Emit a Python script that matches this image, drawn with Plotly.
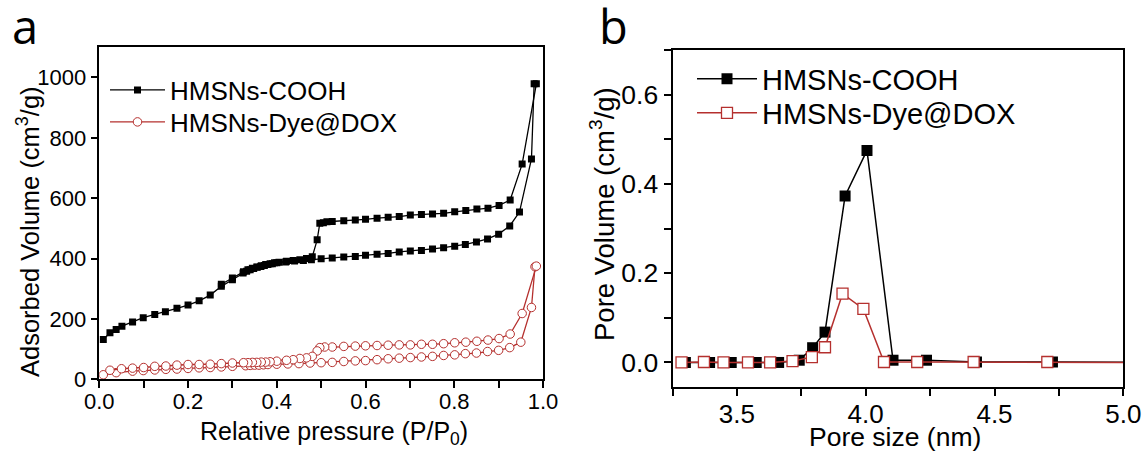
import plotly.graph_objects as go

# ---------------- Panel a: N2 isotherms ----------------
cooh_ads_p = [0.009, 0.024, 0.038, 0.051, 0.075, 0.099, 0.125, 0.149, 0.175, 0.200, 0.225, 0.250, 0.275,
              0.300, 0.324, 0.332, 0.340, 0.348, 0.356, 0.364, 0.372, 0.380, 0.390, 0.400, 0.420, 0.440,
              0.460, 0.478, 0.500, 0.525, 0.551, 0.577, 0.600, 0.626, 0.651, 0.676, 0.701, 0.726, 0.751,
              0.776, 0.801, 0.825, 0.850, 0.875, 0.900, 0.925, 0.947, 0.974, 0.980]
cooh_ads_v = [132, 154, 165, 176, 190, 204, 215, 224, 235, 246, 260, 279, 308,
              330, 352, 358, 363, 367, 371, 374, 377, 380, 383, 386, 389, 392,
              394, 396, 399, 402, 405, 407, 411, 414, 417, 422, 425, 427, 432,
              436, 441, 447, 455, 465, 481, 508, 554, 730, 979]
cooh_des_p = [0.985, 0.953, 0.926, 0.901, 0.876, 0.851, 0.826, 0.801, 0.776, 0.751, 0.726, 0.701, 0.676,
              0.651, 0.626, 0.600, 0.577, 0.551, 0.525, 0.513, 0.505, 0.497, 0.491, 0.480, 0.467, 0.452,
              0.437, 0.422, 0.405, 0.395, 0.385, 0.375, 0.365, 0.355, 0.345, 0.335, 0.325, 0.300, 0.275]
cooh_des_v = [979, 713, 594, 576, 567, 564, 559, 555, 550, 548, 546, 544, 539,
              537, 534, 530, 528, 525, 523, 522, 519, 517, 462, 406, 400, 396,
              394, 391, 388, 386, 383, 380, 376, 372, 368, 363, 356, 336, 315]

dox_ads_p = [0.009, 0.038, 0.075, 0.099, 0.125, 0.150, 0.175, 0.200, 0.225, 0.250, 0.275, 0.300, 0.330,
             0.340, 0.350, 0.360, 0.370, 0.380, 0.400, 0.425, 0.450, 0.475, 0.500, 0.525, 0.551, 0.577,
             0.600, 0.626, 0.651, 0.676, 0.701, 0.726, 0.751, 0.776, 0.801, 0.825, 0.850, 0.875, 0.900,
             0.925, 0.950, 0.974, 0.982]
dox_ads_v = [15, 22, 27, 29, 31, 33, 34, 36, 38, 39, 41, 43, 45,
             46, 47, 47, 48, 49, 50, 51, 52, 54, 55, 56, 59, 61,
             62, 65, 68, 70, 72, 74, 76, 79, 81, 85, 87, 92, 96,
             105, 123, 238, 373]
dox_des_p = [0.985, 0.953, 0.926, 0.901, 0.876, 0.851, 0.826, 0.801, 0.776, 0.751, 0.726, 0.701, 0.676,
             0.651, 0.626, 0.600, 0.577, 0.551, 0.525, 0.508, 0.497, 0.491, 0.480, 0.467, 0.452, 0.437,
             0.422, 0.400, 0.385, 0.375, 0.365, 0.355, 0.345, 0.335, 0.325, 0.300, 0.275, 0.250, 0.225,
             0.200, 0.175, 0.150, 0.125, 0.100, 0.075, 0.050, 0.024]
dox_des_v = [375, 218, 150, 135, 130, 126, 123, 121, 118, 116, 116, 114, 114,
             113, 112, 111, 110, 109, 107, 107, 105, 94, 76, 71, 69, 65,
             63, 60, 58, 57, 57, 56, 56, 55, 55, 54, 52, 50, 49,
             49, 47, 44, 43, 39, 37, 35, 30]

# ---------------- Panel b: pore size distribution ----------------
cooh_pore_x = [3.30, 3.394, 3.478, 3.575, 3.662, 3.742, 3.794, 3.842, 3.920, 4.005, 4.106, 4.236, 4.430, 4.725, 5.10]
cooh_pore_y = [0.0, 0.0, 0.0, 0.0, 0.0, 0.005, 0.033, 0.068, 0.373, 0.475, 0.005, 0.005, 0.001, 0.001, 0.0]
dox_pore_x = [3.285, 3.372, 3.448, 3.543, 3.629, 3.716, 3.791, 3.842, 3.910, 3.991, 4.071, 4.200, 4.419, 4.705, 5.10]
dox_pore_y = [0.0, 0.001, 0.0, 0.0, 0.0, 0.003, 0.012, 0.034, 0.154, 0.120, 0.001, 0.001, 0.001, 0.001, 0.0]

names = ["HMSNs-COOH", "HMSNs-Dye@DOX"]
titles = ["Relative pressure (P/P<sub>0</sub>)", "Adsorbed Volume (cm<sup>3</sup>/g)",
          "Pore size (nm)", "Pore Volume (cm<sup>3</sup>/g)"]
BLACK = "#000000"
RED = "#b5302e"
FONT = "Liberation Sans, Arial, sans-serif"
LETTER_FONT = "Open Sans, Liberation Sans, sans-serif"

fig = go.Figure()

# panel a traces
fig.add_trace(go.Scatter(x=cooh_ads_p, y=cooh_ads_v, mode="lines+markers", name=names[0],
                         line=dict(color=BLACK, width=1.3),
                         marker=dict(symbol="square", size=7, color=BLACK),
                         xaxis="x", yaxis="y", legend="legend"))
fig.add_trace(go.Scatter(x=cooh_des_p, y=cooh_des_v, mode="lines+markers", name=names[0],
                         line=dict(color=BLACK, width=1.3),
                         marker=dict(symbol="square", size=7, color=BLACK),
                         xaxis="x", yaxis="y", showlegend=False))
fig.add_trace(go.Scatter(x=dox_ads_p, y=dox_ads_v, mode="lines+markers", name=names[1],
                         line=dict(color=RED, width=1.3),
                         marker=dict(symbol="circle", size=8.5, color="white", line=dict(color=RED, width=1)),
                         xaxis="x", yaxis="y", legend="legend2"))
fig.add_trace(go.Scatter(x=dox_des_p, y=dox_des_v, mode="lines+markers", name=names[1],
                         line=dict(color=RED, width=1.3),
                         marker=dict(symbol="circle", size=8.5, color="white", line=dict(color=RED, width=1)),
                         xaxis="x", yaxis="y", showlegend=False))

# panel b traces
fig.add_trace(go.Scatter(x=cooh_pore_x, y=cooh_pore_y, mode="lines+markers", name=names[0],
                         line=dict(color=BLACK, width=1.5),
                         marker=dict(symbol="square", size=11, color=BLACK),
                         xaxis="x2", yaxis="y2", legend="legend3"))
fig.add_trace(go.Scatter(x=dox_pore_x, y=dox_pore_y, mode="lines+markers", name=names[1],
                         line=dict(color=RED, width=1.5),
                         marker=dict(symbol="square", size=11, color="white", line=dict(color=RED, width=1.3)),
                         xaxis="x2", yaxis="y2", legend="legend4"))

W, H = 1146, 452


def axis(tsize, **kw):
    base = dict(showline=True, linecolor="black", mirror=True, ticks="outside", ticklen=7,
                tickwidth=1.5, tickcolor="black", showgrid=False, zeroline=False,
                tickfont=dict(family=FONT, size=tsize, color="black"), automargin=False)
    base.update(kw)
    return base


def px(x, y):
    return x / W, 1 - y / H


def leg(x, y, size, iw):
    lx, ly = px(x, y)
    return dict(x=lx, y=ly, xanchor="left", yanchor="middle", bgcolor="rgba(0,0,0,0)",
                font=dict(size=size, family=FONT, color="black"), itemwidth=iw)


fig.update_layout(
    width=W, height=H,
    margin=dict(l=0, r=0, t=0, b=0),
    paper_bgcolor="white", plot_bgcolor="white",
    font=dict(family=FONT, size=22, color="black"),
    xaxis=axis(22, domain=[99.3 / W, 543 / W], range=[0, 1.0], dtick=0.2, tickformat=".1f",
               minor=dict(dtick=0.1, ticks="outside", ticklen=7, tickwidth=1.5, tickcolor="black"),
               linewidth=1.5, anchor="y", ticklabelstandoff=-5),
    yaxis=axis(22, domain=[(H - 379.3) / H, (H - 47.3) / H], range=[0, 1100],
               tickvals=[0, 200, 400, 600, 800, 1000],
               linewidth=1.5, anchor="x"),
    xaxis2=axis(26, domain=[672.5 / W, 1123.3 / W], range=[3.25, 5.0], tickvals=[3.5, 4.0, 4.5, 5.0],
                ticktext=["3.5", "4.0", "4.5", "5.0"],
                minor=dict(dtick=0.25, tick0=3.25, ticks="outside", ticklen=7, tickwidth=1.5, tickcolor="black"),
                linewidth=2, anchor="y2", ticklabelstandoff=-4),
    yaxis2=axis(26.5, domain=[(H - 387) / H, (H - 50) / H], range=[-0.055, 0.7], tickvals=[0.0, 0.2, 0.4, 0.6],
                tickformat=".1f",
                minor=dict(dtick=0.1, tick0=0, ticks="outside", ticklen=7, tickwidth=1.5, tickcolor="black"),
                linewidth=2, anchor="x2"),
    legend=leg(105, 90, 26, 55),
    legend2=leg(105, 122, 26, 55),
    legend3=leg(692, 79, 29, 60),
    legend4=leg(692, 113, 29, 60),
)

ann = []
# panel letters
ax_, ay_ = px(10, -8)
ann.append(dict(text="a", x=ax_, y=ay_, xanchor="left", yanchor="top", font=dict(size=47, family=LETTER_FONT)))
bx_, by_ = px(597, -8)
ann.append(dict(text="b", x=bx_, y=by_, xanchor="left", yanchor="top", font=dict(size=47, family=LETTER_FONT)))
# axis titles
x1, y1 = px(334, 433)
ann.append(dict(text=titles[0], x=x1, y=y1, xanchor="center", yanchor="middle", font=dict(size=25)))
x2, y2 = px(28, 232)
ann.append(dict(text=titles[1], x=x2, y=y2, xanchor="center", yanchor="middle", textangle=-90,
                font=dict(size=25.5)))
x3, y3 = px(895, 437)
ann.append(dict(text=titles[2], x=x3, y=y3, xanchor="center", yanchor="middle", font=dict(size=26.5)))
x4, y4 = px(603, 214)
ann.append(dict(text=titles[3], x=x4, y=y4, xanchor="center", yanchor="middle", textangle=-90,
                font=dict(size=27.5)))
for a in ann:
    a.update(xref="paper", yref="paper", showarrow=False)
    a["font"].setdefault("family", FONT)
    a["font"].setdefault("color", "black")
fig.update_layout(annotations=ann)

fig.write_html("out.html")
